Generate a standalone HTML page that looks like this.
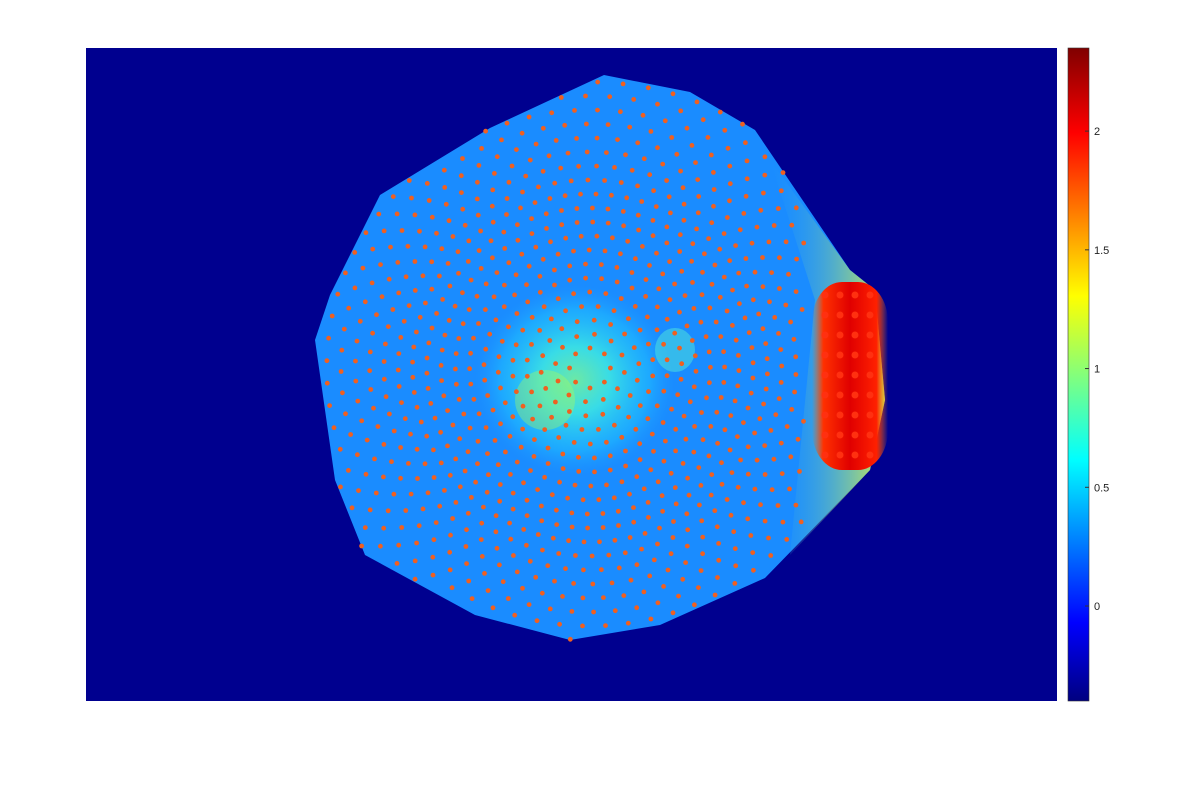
<!DOCTYPE html>
<html><head><meta charset="utf-8"><style>
body{margin:0;background:#fff;}
svg{display:block;font-family:"Liberation Sans",sans-serif;}
</style></head><body>
<svg width="1204" height="785" viewBox="0 0 1204 785">
<defs>
<radialGradient id="core" cx="0.5" cy="0.5" r="0.5">
<stop offset="0" stop-color="#80ff90"/><stop offset="0.35" stop-color="#40f0e0"/><stop offset="0.75" stop-color="#20c8ff" stop-opacity="0.6"/><stop offset="1" stop-color="#20a0ff" stop-opacity="0"/>
</radialGradient>
<linearGradient id="hotx" x1="0" y1="0" x2="1" y2="0">
<stop offset="0" stop-color="#ff6000" stop-opacity="0"/><stop offset="0.15" stop-color="#ff3000"/><stop offset="0.5" stop-color="#e00000"/><stop offset="0.85" stop-color="#ff2000"/><stop offset="1" stop-color="#ff8000" stop-opacity="0"/>
</linearGradient>
<linearGradient id="jet" x1="0" y1="1" x2="0" y2="0">
<stop offset="0" stop-color="#000080"/><stop offset="0.12" stop-color="#0000ff"/><stop offset="0.37" stop-color="#00ffff"/><stop offset="0.62" stop-color="#ffff00"/><stop offset="0.87" stop-color="#ff0000"/><stop offset="1" stop-color="#800000"/>
</linearGradient>
<linearGradient id="edge" x1="0" y1="0" x2="1" y2="0">
<stop offset="0" stop-color="#20a0ff" stop-opacity="0"/><stop offset="1" stop-color="#f0ff30"/>
</linearGradient>
</defs>
<rect x="86" y="48" width="971" height="653" fill="#00008f"/>
<g>
<polygon points="604,75 690,92 755,130 850,270 875,290 885,400 870,470 765,578 660,625 570,640 475,615 365,555 335,480 315,340 330,295 380,195 490,128" fill="#1a8cff"/>
<polygon points="770,160 850,270 875,290 885,400 870,470 790,555 815,300" fill="url(#edge)" opacity="0.85"/>
<ellipse cx="575" cy="380" rx="100" ry="95" fill="url(#core)" opacity="0.8"/>
<ellipse cx="545" cy="400" rx="30" ry="30" fill="#b0ff50" opacity="0.35"/>
<ellipse cx="675" cy="350" rx="20" ry="22" fill="#60ffd0" opacity="0.4"/>
<rect x="812" y="282" width="76" height="188" rx="30" ry="40" fill="url(#hotx)"/>
</g>
<g id="dots"></g>
<rect x="1068" y="48" width="21" height="653" fill="url(#jet)" stroke="#333" stroke-width="0.6"/>
<g id="cbticks"></g>
</svg>
<script>
const ringRadii=[20,34,48,62,76,90,104,118,132,146,160,174,188,202,216,230,244,258,272,286];
const ringCounts=[8,12,18,24,30,36,42,48,54,60,66,72,72,72,72,72,72,72,72,72];
const hotRowsY=[295,315,335,355,375,395,415,435,455];
const hotColsX=[825,840,855,870];
const tickValues=[0,0.5,1,1.5,2];
const cbMin=-0.4, cbMax=2.35;
const NS="http://www.w3.org/2000/svg";
const poly=[[604,75],[690,92],[755,130],[850,270],[875,290],[885,400],[870,470],[765,578],[660,625],[570,640],[475,615],[365,555],[335,480],[315,340],[330,295],[380,195],[490,128]];
function inside(x,y){let c=false;for(let i=0,j=poly.length-1;i<poly.length;j=i++){const [xi,yi]=poly[i],[xj,yj]=poly[j];if((yi>y)!=(yj>y)&&x<(xj-xi)*(y-yi)/(yj-yi)+xi)c=!c;}return c;}
const cx=590,cy=368;
const g=document.getElementById('dots');
function dot(x,y,r,fill){
  const c=document.createElementNS(NS,'circle');
  c.setAttribute('cx',x.toFixed(1));c.setAttribute('cy',y.toFixed(1));c.setAttribute('r',r);
  c.setAttribute('fill',fill);
  
  
  g.appendChild(c);
}
ringRadii.forEach((r,i)=>{
  const n=ringCounts[i];
  for(let k=0;k<n;k++){
    const a=2*Math.PI*k/n+i*0.13;
    const x=cx+r*Math.cos(a)*1.02, y=cy+r*Math.sin(a);
    if(!inside(x,y)||x>805)continue;
    dot(x,y,2.4,'#f06020');
  }
});
hotRowsY.forEach(y=>hotColsX.forEach(x=>dot(x,y,3.5,'#ff3010')));
function yv(v){return 701-(v-cbMin)/(cbMax-cbMin)*653;}
const tg=document.getElementById('cbticks');
tickValues.forEach(v=>{
  const y=yv(v);
  const l=document.createElementNS(NS,'line');
  l.setAttribute('x1',1085);l.setAttribute('x2',1089);l.setAttribute('y1',y);l.setAttribute('y2',y);l.setAttribute('stroke','#333');
  
  
  tg.appendChild(l);
  const t=document.createElementNS(NS,'text');
  t.setAttribute('x',1094);t.setAttribute('y',y+4);t.setAttribute('font-size','11');t.setAttribute('fill','#222');
  t.textContent=String(v);
  
  
  tg.appendChild(t);
});
</script>
</body></html>
